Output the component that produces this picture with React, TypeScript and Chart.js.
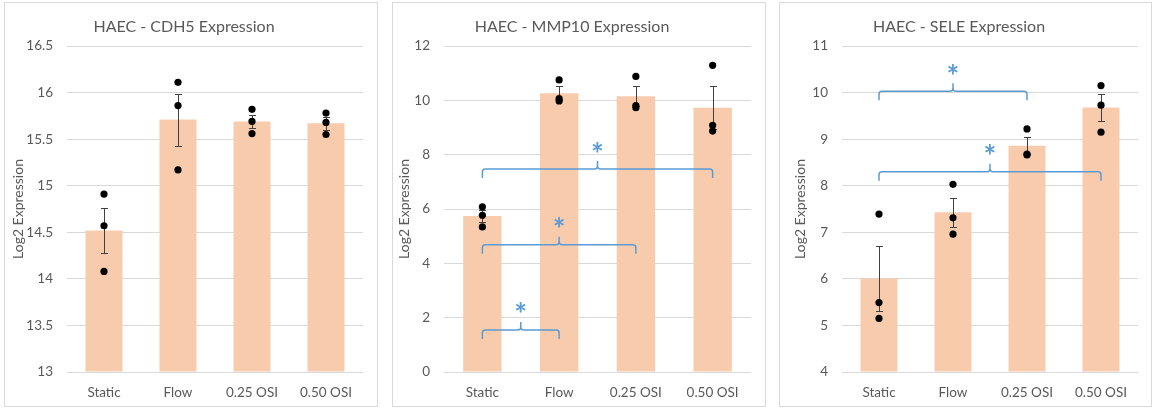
import React, { useEffect, useRef } from 'react';
import { Chart, registerables } from 'chart.js';

Chart.register(...registerables);

// ---------- data ----------
const categories = ['Static', 'Flow', '0.25 OSI', '0.50 OSI'];
const yAxisTitle = 'Log2 Expression';

const cdh5Title = 'HAEC - CDH5 Expression';
const cdh5Means = [14.52, 15.71, 15.69, 15.67];
const cdh5Err = [0.24, 0.28, 0.07, 0.07];
const cdh5Points = [
  [14.91, 14.57, 14.08],
  [16.11, 15.86, 15.17],
  [15.82, 15.69, 15.56],
  [15.78, 15.68, 15.55],
];
const cdh5BracketFrom: number[] = [];
const cdh5BracketTo: number[] = [];
const cdh5BracketY: number[] = [];

const mmp10Title = 'HAEC - MMP10 Expression';
const mmp10Means = [5.74, 10.26, 10.15, 9.73];
const mmp10Err = [0.21, 0.25, 0.37, 0.79];
const mmp10Points = [
  [6.08, 5.77, 5.34],
  [10.75, 10.06, 9.98],
  [10.88, 9.81, 9.73],
  [11.29, 9.08, 8.87],
];
const mmp10BracketFrom = [0, 0, 0];
const mmp10BracketTo = [1, 2, 3];
const mmp10BracketY = [1.55, 4.68, 7.47];

const seleTitle = 'HAEC - SELE Expression';
const seleMeans = [6.01, 7.43, 8.86, 9.68];
const seleErr = [0.7, 0.31, 0.18, 0.29];
const selePoints = [
  [7.39, 5.49, 5.15],
  [8.03, 7.31, 6.96],
  [9.22, 8.68, 8.66],
  [10.15, 9.73, 9.15],
];
const seleBracketFrom = [0, 0];
const seleBracketTo = [2, 3];
const seleBracketY = [10.03, 8.3];

// ---------- styles ----------
const FONT = 'Lato, "Open Sans", sans-serif';
const TEXT = '#595959';
const GRID = '#d9d9d9';
const BAR = '#F8CBAD';
const BLUE = '#5B9BD5';

interface PanelCfg {
  title: string;
  means: number[];
  err: number[];
  points: number[][];
  yMin: number;
  yMax: number;
  step: number;
  plotLeft: number;
  yTitlePad: number;
  bFrom: number[];
  bTo: number[];
  bY: number[];
  left: number;
  width: number;
}

function Panel({ cfg }: { cfg: PanelCfg }) {
  const ref = useRef<HTMLCanvasElement>(null);
  const cw = cfg.width - 2;
  const ch = 403;

  useEffect(() => {
    const canvas = ref.current!;
    const pointData = cfg.points.flatMap((arr, i) => arr.map((v) => ({ x: categories[i], y: v })));

    const errorPlugin = {
      id: 'errbars',
      afterDatasetDraw(chart: any, args: any) {
        if (args.index !== 0) return;
        const meta = chart.getDatasetMeta(0);
        const ys = chart.scales.y;
        const c = chart.ctx;
        c.save();
        c.strokeStyle = '#404040';
        c.lineWidth = 1;
        meta.data.forEach((bar: any, i: number) => {
          const x = Math.round(bar.x) + 0.5;
          const yTop = Math.round(ys.getPixelForValue(cfg.means[i] + cfg.err[i])) + 0.5;
          const yBot = Math.round(ys.getPixelForValue(cfg.means[i] - cfg.err[i])) + 0.5;
          c.beginPath();
          c.moveTo(x, yTop);
          c.lineTo(x, yBot);
          c.moveTo(x - 3.5, yTop);
          c.lineTo(x + 3.5, yTop);
          c.moveTo(x - 3.5, yBot);
          c.lineTo(x + 3.5, yBot);
          c.stroke();
        });
        c.restore();
      },
    };

    const bracketPlugin = {
      id: 'brackets',
      afterDatasetsDraw(chart: any) {
        const xs = chart.scales.x;
        const ys = chart.scales.y;
        const c = chart.ctx;
        c.save();
        c.strokeStyle = BLUE;
        c.lineWidth = 1.5;
        c.fillStyle = BLUE;
        const r = 3;
        const drop = 9;
        const tip = 8;
        for (let k = 0; k < cfg.bY.length; k++) {
          const x1 = xs.getPixelForValue(cfg.bFrom[k]);
          const x2 = xs.getPixelForValue(cfg.bTo[k]);
          const xc = (x1 + x2) / 2;
          const yl = ys.getPixelForValue(cfg.bY[k]);
          c.beginPath();
          c.moveTo(x1, yl + drop);
          c.lineTo(x1, yl + r);
          c.quadraticCurveTo(x1, yl, x1 + r, yl);
          c.lineTo(xc - r, yl);
          c.quadraticCurveTo(xc, yl, xc, yl - r);
          c.lineTo(xc, yl - tip);
          c.moveTo(xc, yl - r);
          c.quadraticCurveTo(xc, yl, xc + r, yl);
          c.lineTo(x2 - r, yl);
          c.quadraticCurveTo(x2, yl, x2, yl + r);
          c.lineTo(x2, yl + drop);
          c.stroke();
          // asterisk
          c.font = 'bold 30px ' + FONT;
          c.textAlign = 'center';
          c.textBaseline = 'alphabetic';
          const m = c.measureText('*');
          const asc = m.actualBoundingBoxAscent;
          const desc = m.actualBoundingBoxDescent;
          const cy = yl - 22;
          c.fillText('*', xc, cy + (asc - desc) / 2);
        }
        c.restore();
      },
    };

    const chart = new Chart(canvas, {
      type: 'bar',
      data: {
        labels: categories,
        datasets: [
          {
            type: 'bar',
            data: cfg.means,
            backgroundColor: BAR,
            borderWidth: 0,
            barPercentage: 0.5,
            categoryPercentage: 1,
            base: cfg.yMin,
            order: 1,
          } as any,
          {
            type: 'line',
            data: pointData as any,
            showLine: false,
            pointRadius: 3.6,
            pointBackgroundColor: '#000000',
            pointBorderWidth: 0,
            pointBorderColor: '#000000',
            order: 0,
          } as any,
        ],
      },
      options: {
        animation: false,
        responsive: false,
        maintainAspectRatio: false,
        layout: { padding: { left: 0, right: cw - 358, top: 0, bottom: 0 } },
        plugins: {
          legend: { display: false },
          tooltip: { enabled: false },
          title: {
            display: true,
            text: cfg.title,
            color: TEXT,
            font: { family: FONT, size: 16, weight: 'normal' },
            padding: { top: 14, bottom: 9.8 },
          },
        },
        scales: {
          x: {
            grid: { display: false },
            border: { display: false },
            ticks: { color: TEXT, font: { family: FONT, size: 13.5 }, padding: 5, maxRotation: 0 },
            afterFit: (s: any) => {
              s.height = 34;
            },
          },
          y: {
            min: cfg.yMin,
            max: cfg.yMax,
            ticks: {
              stepSize: cfg.step,
              color: TEXT,
              font: { family: FONT, size: 13.5 },
              padding: 14,
              callback: (v: any) => String(Number(v)),
            },
            grid: { color: GRID, drawTicks: false },
            border: { display: false },
            title: {
              display: true,
              text: yAxisTitle,
              color: TEXT,
              font: { family: FONT, size: 14 },
              padding: { top: cfg.yTitlePad, bottom: 0 },
            },
            afterFit: (s: any) => {
              s.width = cfg.plotLeft;
            },
          },
        },
      } as any,
      plugins: [errorPlugin, bracketPlugin],
    });
    return () => chart.destroy();
  }, []);

  return (
    <div
      style={{
        position: 'absolute',
        left: cfg.left,
        top: 2,
        width: cfg.width,
        height: 405,
        border: '1px solid ' + GRID,
        boxSizing: 'border-box',
        background: '#fff',
      }}
    >
      <canvas ref={ref} width={cw} height={ch} style={{ display: 'block', width: cw, height: ch }} />
    </div>
  );
}

const panels: PanelCfg[] = [
  {
    title: cdh5Title, means: cdh5Means, err: cdh5Err, points: cdh5Points,
    yMin: 13, yMax: 16.5, step: 0.5, plotLeft: 62, yTitlePad: 4.6,
    bFrom: cdh5BracketFrom, bTo: cdh5BracketTo, bY: cdh5BracketY, left: 4, width: 374,
  },
  {
    title: mmp10Title, means: mmp10Means, err: mmp10Err, points: mmp10Points,
    yMin: 0, yMax: 12, step: 2, plotLeft: 51, yTitlePad: 3.3,
    bFrom: mmp10BracketFrom, bTo: mmp10BracketTo, bY: mmp10BracketY, left: 392, width: 374,
  },
  {
    title: seleTitle, means: seleMeans, err: seleErr, points: selePoints,
    yMin: 4, yMax: 11, step: 1, plotLeft: 62, yTitlePad: 11.6,
    bFrom: seleBracketFrom, bTo: seleBracketTo, bY: seleBracketY, left: 779, width: 373,
  },
];

export default function App() {
  return (
    <div style={{ position: 'absolute', left: 0, top: 0, width: 1152, height: 408, background: '#fff' }}>
      {panels.map((p) => (
        <Panel key={p.title} cfg={p} />
      ))}
    </div>
  );
}
